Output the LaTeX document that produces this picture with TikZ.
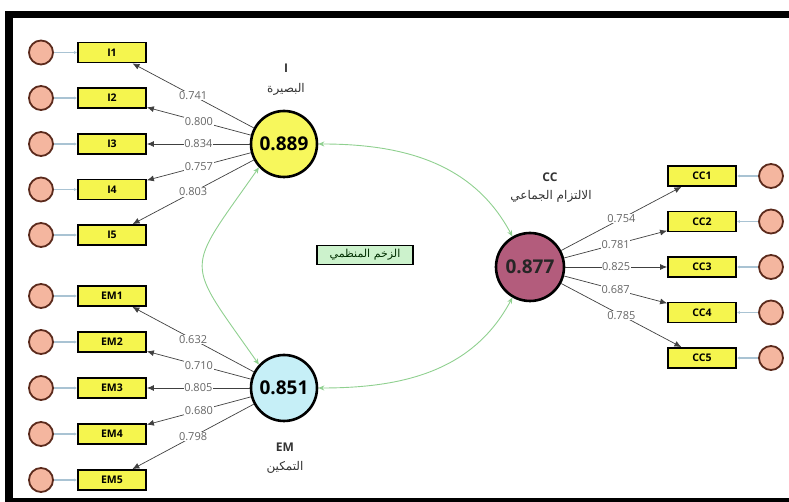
\documentclass[tikz,border=0pt]{standalone}
\usepackage{fontspec}
\setmainfont{Open Sans}
\newfontfamily\arabicfont[Script=Arabic]{DejaVu Sans}
\TeXXeTstate=1
\usetikzlibrary{arrows.meta}
\definecolor{latyellow}{HTML}{F7F75C}
\definecolor{latcyan}{HTML}{C6EFF7}
\definecolor{latmauve}{HTML}{B35C7C}
\definecolor{errfill}{HTML}{F4B69F}
\definecolor{errdraw}{HTML}{5B2A1C}
\definecolor{boxfill}{HTML}{F5F54E}
\definecolor{arcgreen}{HTML}{8FD08F}
\definecolor{errline}{HTML}{A9C3D3}
\definecolor{midfill}{HTML}{CCF2CC}

\begin{document}
\begin{tikzpicture}
[x=1pt,y=1pt,%
  latent/.style={shape=circle,draw,line width=2.6pt,minimum size=66pt,inner sep=0pt,font=\fontsize{19}{19}\selectfont\bfseries},%
  ind/.style={shape=rectangle,draw,line width=1.8pt,fill=boxfill,minimum width=68pt,minimum height=20pt,inner sep=0pt,font=\fontsize{10.5}{10.5}\selectfont\bfseries},%
  err/.style={shape=circle,draw=errdraw,line width=1.8pt,fill=errfill,minimum size=24pt,inner sep=0pt},%
  load/.style={draw=black!75,line width=0.7pt,-{Latex[length=7pt,width=6pt]}},%
  lbl/.style={fill=white,inner sep=0.6pt,text=black!60,font=\fontsize{11}{11}\selectfont},%
  errarrow/.style={draw=errline,line width=1.2pt,-{Latex[length=3pt,width=3pt]}},%
  cov/.style={draw=arcgreen,line width=0.9pt,{Stealth[length=6pt,width=5pt]}-{Stealth[length=6pt,width=5pt]}},%
  title/.style={text=black!80,font=\fontsize{12}{12}\selectfont\bfseries},%
  artitle/.style={text=black!80,font=\arabicfont\fontsize{12}{12}\selectfont}]
\useasboundingbox (0,0) rectangle (789,502);
% frame
\fill[black] (5,484) rectangle (789,491);
\fill[black] (5,0) rectangle (13,491);
\fill[black] (5,0) rectangle (789,4);
% latent variables
\node[latent,fill=latyellow] (I) at (284,358) {0.889};
\node[latent,fill=latcyan] (EM) at (284,114) {0.851};
\node[latent,fill=latmauve,minimum size=68pt,text=black!85] (CC) at (530,235) {0.877};
\node[title] (Ititle) at (286,434) {I};
\node[artitle] (Iar) at (286,413) {\beginR البصيرة\endR};
\node[title] (EMtitle) at (285,55) {EM};
\node[artitle] (EMar) at (285,35) {\beginR التمكين\endR};
\node[title] (CCtitle) at (550,325) {CC};
\node[artitle] (CCar) at (551,306) {\beginR الالتزام الجماعي\endR};
\node[draw,line width=1.5pt,fill=midfill,minimum width=96pt,minimum height=19pt,inner sep=0pt,%
  text=black!70!green!60!black,font=\arabicfont\fontsize{11}{11}\selectfont] (mid) at (365,247)
  {\beginR الزخم المنظمي\endR};
% indicators of I
\node[ind] (I1) at (112,449.5) {I1};
\node[ind] (I2) at (112,404) {I2};
\node[ind] (I3) at (112,358) {I3};
\node[ind] (I4) at (112,312.5) {I4};
\node[ind] (I5) at (112,267) {I5};
% indicators of EM
\node[ind] (EM1) at (112,206) {EM1};
\node[ind] (EM2) at (112,160) {EM2};
\node[ind] (EM3) at (112,114) {EM3};
\node[ind] (EM4) at (112,68) {EM4};
\node[ind] (EM5) at (112,22) {EM5};
% indicators of CC
\node[ind] (CC1) at (702,326) {CC1};
\node[ind] (CC2) at (702,280.5) {CC2};
\node[ind] (CC3) at (702,235) {CC3};
\node[ind] (CC4) at (702,189.5) {CC4};
\node[ind] (CC5) at (702,144) {CC5};
% error terms
\node[err] (eI1) at (41,449.5) {};
\node[err] (eI2) at (41,404) {};
\node[err] (eI3) at (41,358) {};
\node[err] (eI4) at (41,312.5) {};
\node[err] (eI5) at (41,267) {};
\node[err] (eEM1) at (41,206) {};
\node[err] (eEM2) at (41,160) {};
\node[err] (eEM3) at (41,114) {};
\node[err] (eEM4) at (41,68) {};
\node[err] (eEM5) at (41,22) {};
\node[err] (eCC1) at (771,326) {};
\node[err] (eCC2) at (771,280.5) {};
\node[err] (eCC3) at (771,235) {};
\node[err] (eCC4) at (771,189.5) {};
\node[err] (eCC5) at (771,144) {};
\draw[errarrow] (eI1) -- (I1);
\draw[errarrow] (eI2) -- (I2);
\draw[errarrow] (eI3) -- (I3);
\draw[errarrow] (eI4) -- (I4);
\draw[errarrow] (eI5) -- (I5);
\draw[errarrow] (eEM1) -- (EM1);
\draw[errarrow] (eEM2) -- (EM2);
\draw[errarrow] (eEM3) -- (EM3);
\draw[errarrow] (eEM4) -- (EM4);
\draw[errarrow] (eEM5) -- (EM5);
\draw[errarrow] (eCC1) -- (CC1);
\draw[errarrow] (eCC2) -- (CC2);
\draw[errarrow] (eCC3) -- (CC3);
\draw[errarrow] (eCC4) -- (CC4);
\draw[errarrow] (eCC5) -- (CC5);
% loadings
\draw[load] (I) -- node[lbl] {0.741} (I1);
\draw[load] (I) -- node[lbl] {0.800} (I2);
\draw[load] (I) -- node[lbl] {0.834} (I3);
\draw[load] (I) -- node[lbl] {0.757} (I4);
\draw[load] (I) -- node[lbl] {0.803} (I5);
\draw[load] (EM) -- node[lbl] {0.632} (EM1);
\draw[load] (EM) -- node[lbl] {0.710} (EM2);
\draw[load] (EM) -- node[lbl] {0.805} (EM3);
\draw[load] (EM) -- node[lbl] {0.680} (EM4);
\draw[load] (EM) -- node[lbl] {0.798} (EM5);
\draw[load] (CC) -- node[lbl] {0.754} (CC1);
\draw[load] (CC) -- node[lbl] {0.781} (CC2);
\draw[load] (CC) -- node[lbl] {0.825} (CC3);
\draw[load] (CC) -- node[lbl] {0.687} (CC4);
\draw[load] (CC) -- node[lbl] {0.785} (CC5);
% correlations
\draw[cov] (I.east) to[out=0,in=118] (CC.120);
\draw[cov] (EM.east) to[out=0,in=-118] (CC.240);
\draw[cov] (I.223) to[out=235,in=125,looseness=1.7] (EM.137);
\end{tikzpicture}
\end{document}
